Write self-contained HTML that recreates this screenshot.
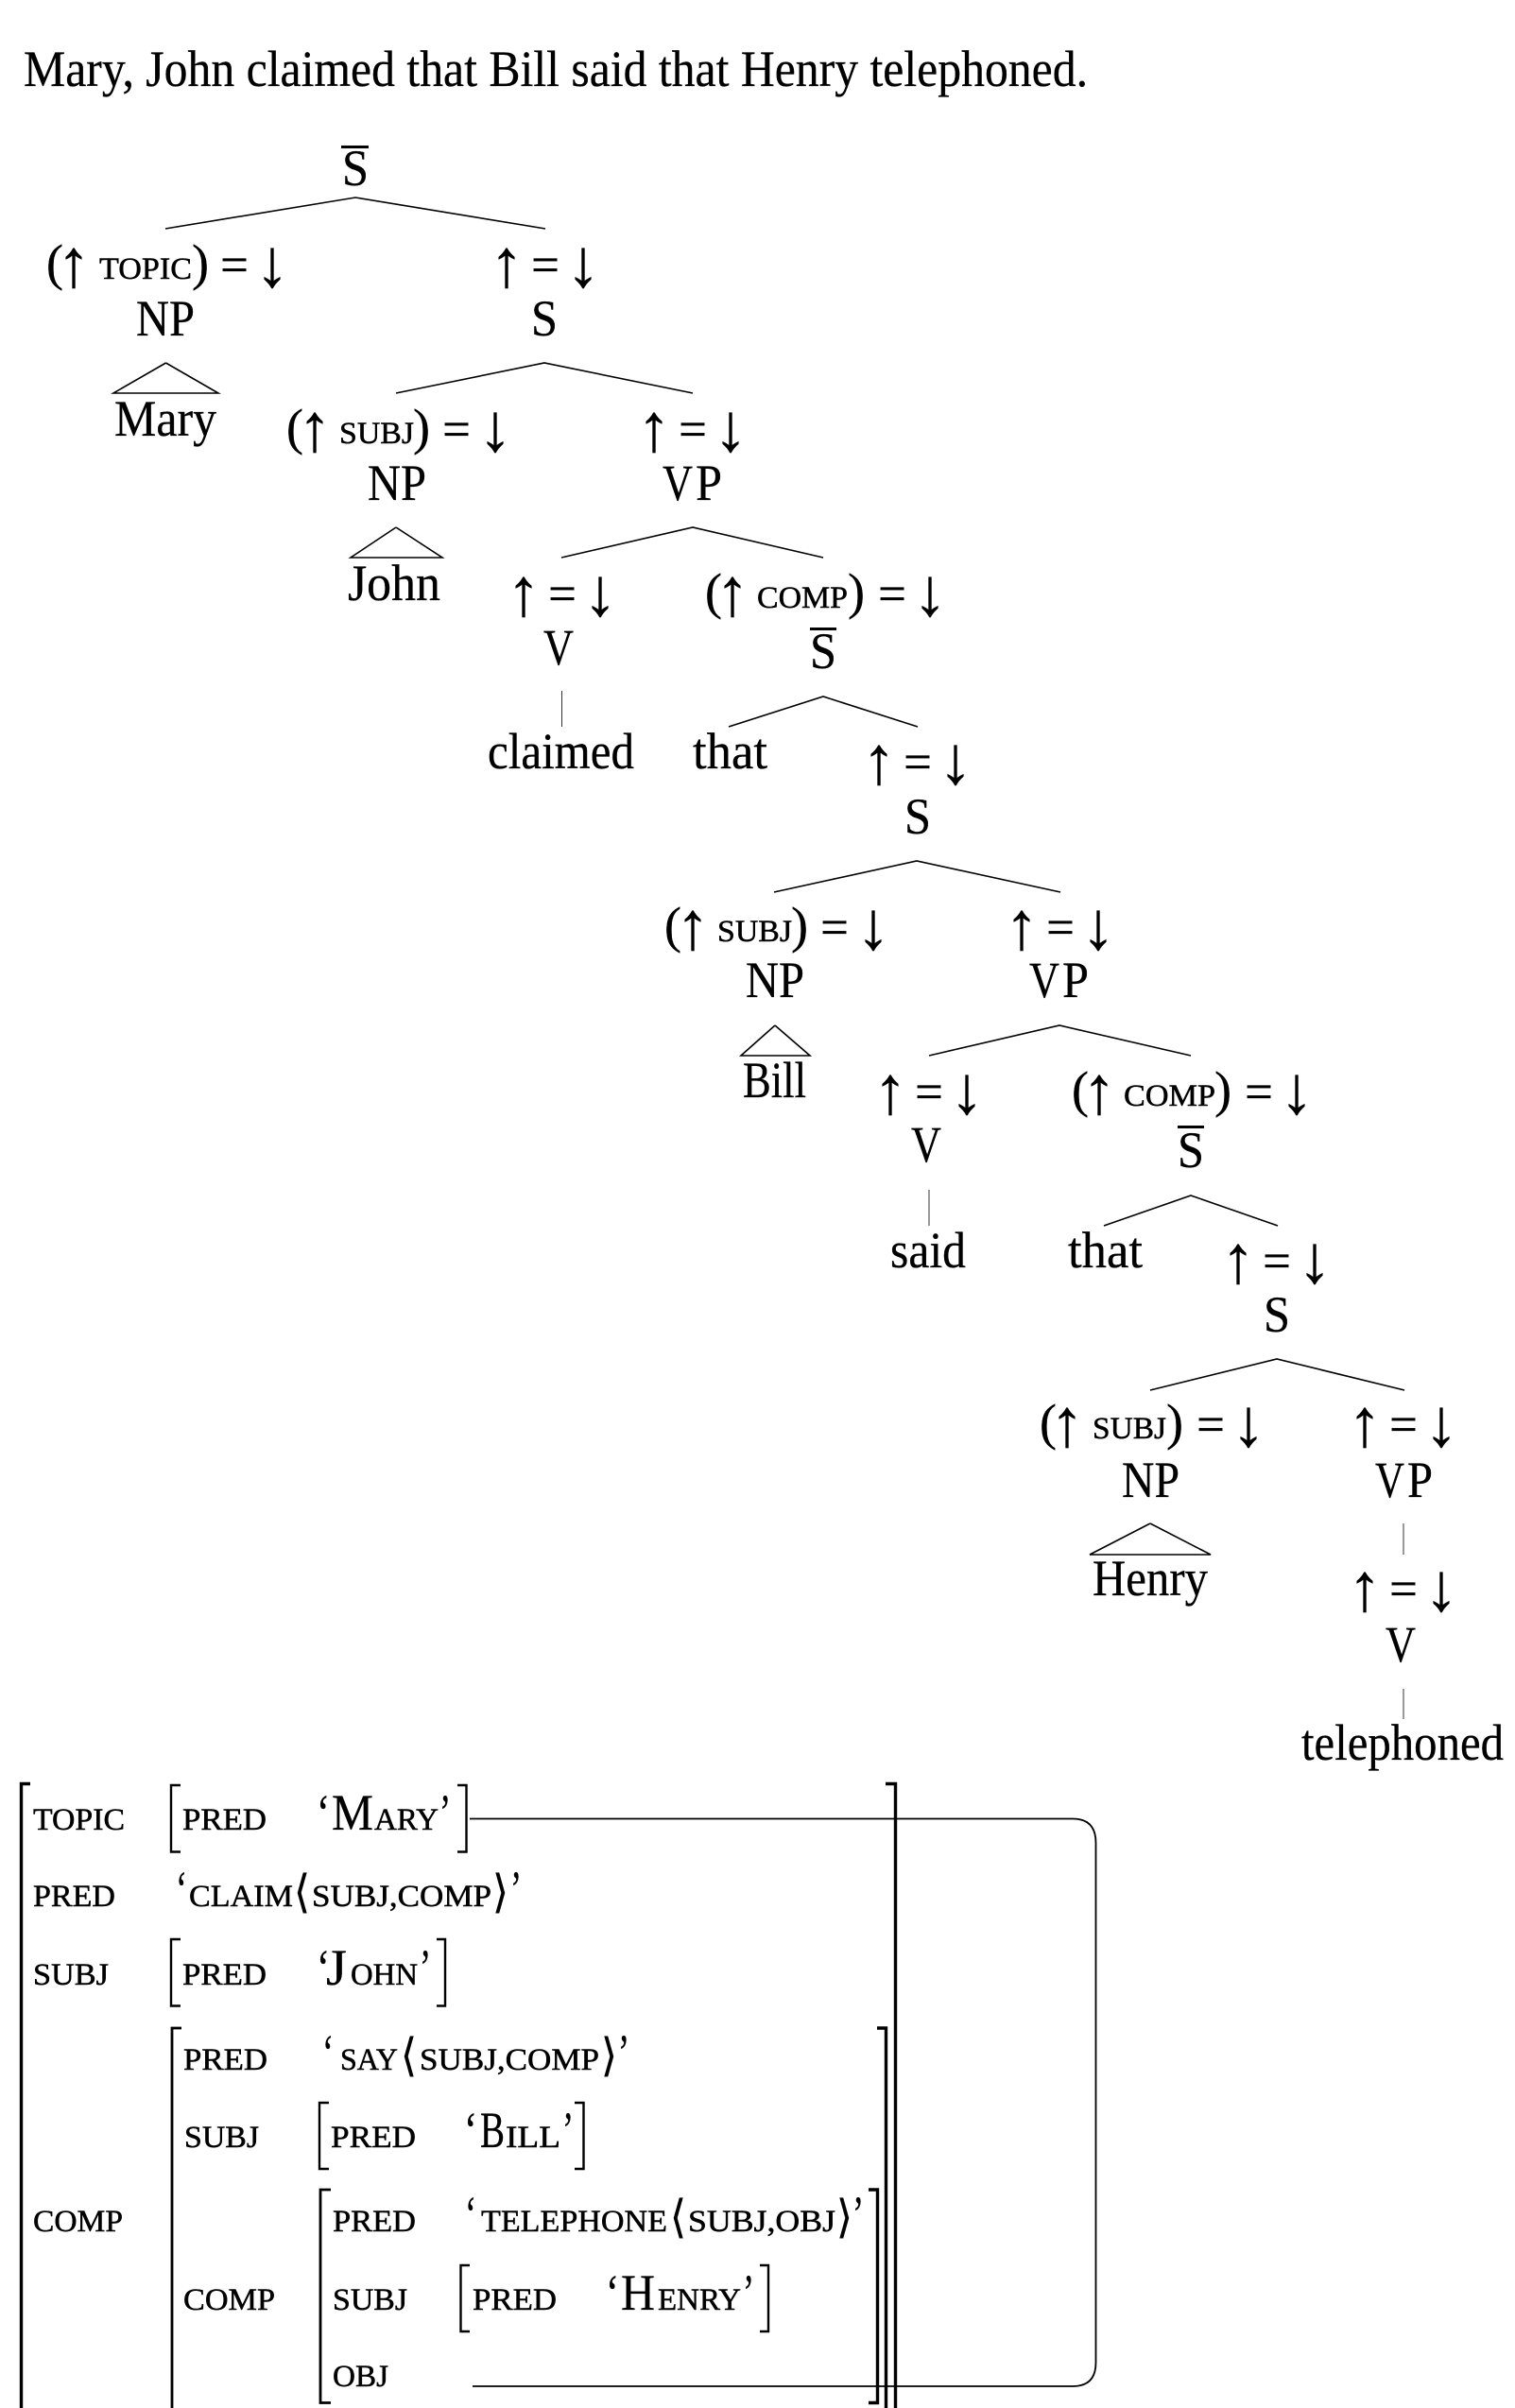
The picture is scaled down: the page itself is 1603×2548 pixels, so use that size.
<!DOCTYPE html>
<html>
<head>
<meta charset="utf-8">
<style>
html,body{margin:0;padding:0;background:#fff;width:1603px;height:2548px;overflow:hidden}
svg{display:block}
text{font-family:"Liberation Serif",serif;fill:#000;font-size:54px;stroke:#000;stroke-width:.3px}
.s{font-size:33px;stroke-width:.5px}
.m{font-size:33px;stroke-width:.5px}
.a{font-size:72px;text-anchor:middle;stroke-width:.3px}
line,polyline,path{fill:none;stroke:#000}
.l{stroke-width:1.6}
.t{stroke-width:1;stroke:#333}
.b{stroke-width:2.4}
.h{stroke-width:3.4}
</style>
</head>
<body>
<svg xmlns="http://www.w3.org/2000/svg" width="1603" height="2548" viewBox="0 0 1603 2548">
<text x="25" y="91" textLength="1126" lengthAdjust="spacingAndGlyphs">Mary, John claimed that Bill said that Henry telephoned.</text>

<!-- root -->
<line x1="361" y1="155.500" x2="390" y2="155.500" stroke-width="3"/>
<text x="362" y="196" textLength="28" lengthAdjust="spacingAndGlyphs">S</text>
<polyline class="l" points="175,242 376,209 577,242"/>

<!-- TOPIC annotation -->
<text x="49" y="296" textLength="18" lengthAdjust="spacingAndGlyphs">(</text>
<text class="a" x="78" y="303">↑</text>
<text class="s" x="105" y="295" textLength="98" lengthAdjust="spacingAndGlyphs">TOPIC</text>
<text x="203" y="296" textLength="18" lengthAdjust="spacingAndGlyphs">)</text>
<text x="233" y="298" textLength="30" lengthAdjust="spacingAndGlyphs">=</text>
<text class="a" x="288" y="303">↓</text>
<text x="144" y="355" textLength="62" lengthAdjust="spacingAndGlyphs">NP</text>
<polyline class="l" points="175.500,384 120,416 231,416 175.500,384"/>
<text x="121" y="461" textLength="108" lengthAdjust="spacingAndGlyphs">Mary</text>

<!-- ↑=↓ S -->
<text class="a" x="536" y="303">↑</text>
<text x="562" y="298" textLength="30" lengthAdjust="spacingAndGlyphs">=</text>
<text class="a" x="617" y="303">↓</text>
<text x="562" y="355" textLength="28" lengthAdjust="spacingAndGlyphs">S</text>
<polyline class="l" points="419,416 576,384 733,416"/>

<!-- SUBJ John -->
<text x="303" y="470" textLength="18" lengthAdjust="spacingAndGlyphs">(</text>
<text class="a" x="333" y="477">↑</text>
<text class="s" x="359" y="469" textLength="79" lengthAdjust="spacingAndGlyphs">SUBJ</text>
<text x="437" y="470" textLength="18" lengthAdjust="spacingAndGlyphs">)</text>
<text x="468" y="472" textLength="30" lengthAdjust="spacingAndGlyphs">=</text>
<text class="a" x="524" y="477">↓</text>
<text x="389" y="529" textLength="62" lengthAdjust="spacingAndGlyphs">NP</text>
<polyline class="l" points="419,558 371,590 468,590 419,558"/>
<text x="368" y="635" textLength="98" lengthAdjust="spacingAndGlyphs">John</text>

<!-- ↑=↓ VP -->
<text class="a" x="692" y="477">↑</text>
<text x="718" y="472" textLength="30" lengthAdjust="spacingAndGlyphs">=</text>
<text class="a" x="773" y="477">↓</text>
<text x="701" y="529" textLength="32" lengthAdjust="spacingAndGlyphs">V</text>
<text x="736" y="529" textLength="28" lengthAdjust="spacingAndGlyphs">P</text>
<polyline class="l" points="594,590 733,558 871,590"/>

<!-- ↑=↓ V claimed -->
<text class="a" x="554" y="651">↑</text>
<text x="580" y="646" textLength="30" lengthAdjust="spacingAndGlyphs">=</text>
<text class="a" x="635" y="651">↓</text>
<text x="575" y="703" textLength="32" lengthAdjust="spacingAndGlyphs">V</text>
<line class="t" x1="594.500" y1="731" x2="594.500" y2="769"/>
<text x="516" y="813" textLength="155" lengthAdjust="spacingAndGlyphs">claimed</text>

<!-- COMP 1 -->
<text x="746" y="644" textLength="18" lengthAdjust="spacingAndGlyphs">(</text>
<text class="a" x="775" y="651">↑</text>
<text class="s" x="801" y="643" textLength="96" lengthAdjust="spacingAndGlyphs">COMP</text>
<text x="897" y="644" textLength="18" lengthAdjust="spacingAndGlyphs">)</text>
<text x="929" y="646" textLength="30" lengthAdjust="spacingAndGlyphs">=</text>
<text class="a" x="984" y="651">↓</text>
<line x1="857" y1="665.500" x2="885" y2="665.500" stroke-width="3"/>
<text x="857" y="707" textLength="28" lengthAdjust="spacingAndGlyphs">S</text>
<polyline class="l" points="771,769 871,737 971,769"/>
<text x="733" y="813" textLength="79" lengthAdjust="spacingAndGlyphs">that</text>

<!-- ↑=↓ S -->
<text class="a" x="930" y="829">↑</text>
<text x="956" y="824" textLength="30" lengthAdjust="spacingAndGlyphs">=</text>
<text class="a" x="1011" y="829">↓</text>
<text x="957" y="882" textLength="28" lengthAdjust="spacingAndGlyphs">S</text>
<polyline class="l" points="819,944 970,911 1122,944"/>

<!-- SUBJ Bill -->
<text x="703" y="997" textLength="18" lengthAdjust="spacingAndGlyphs">(</text>
<text class="a" x="733" y="1004">↑</text>
<text class="s" x="759" y="996" textLength="79" lengthAdjust="spacingAndGlyphs">SUBJ</text>
<text x="837" y="997" textLength="18" lengthAdjust="spacingAndGlyphs">)</text>
<text x="868" y="999" textLength="30" lengthAdjust="spacingAndGlyphs">=</text>
<text class="a" x="924" y="1004">↓</text>
<text x="789" y="1055" textLength="62" lengthAdjust="spacingAndGlyphs">NP</text>
<polyline class="l" points="820,1085 784,1117 857,1117 820,1085"/>
<text x="786" y="1161" textLength="67" lengthAdjust="spacingAndGlyphs">Bill</text>

<!-- ↑=↓ VP -->
<text class="a" x="1081" y="1004">↑</text>
<text x="1107" y="999" textLength="30" lengthAdjust="spacingAndGlyphs">=</text>
<text class="a" x="1162" y="1004">↓</text>
<text x="1089" y="1055" textLength="32" lengthAdjust="spacingAndGlyphs">V</text>
<text x="1124" y="1055" textLength="28" lengthAdjust="spacingAndGlyphs">P</text>
<polyline class="l" points="983,1117 1121,1085 1260,1117"/>

<!-- ↑=↓ V said -->
<text class="a" x="942" y="1178">↑</text>
<text x="968" y="1173" textLength="30" lengthAdjust="spacingAndGlyphs">=</text>
<text class="a" x="1023" y="1178">↓</text>
<text x="964" y="1229" textLength="32" lengthAdjust="spacingAndGlyphs">V</text>
<line class="t" x1="983" y1="1259" x2="983" y2="1297"/>
<text x="942" y="1341" textLength="80" lengthAdjust="spacingAndGlyphs">said</text>

<!-- COMP 2 -->
<text x="1134" y="1171" textLength="18" lengthAdjust="spacingAndGlyphs">(</text>
<text class="a" x="1163" y="1178">↑</text>
<text class="s" x="1189" y="1170" textLength="97" lengthAdjust="spacingAndGlyphs">COMP</text>
<text x="1285" y="1171" textLength="18" lengthAdjust="spacingAndGlyphs">)</text>
<text x="1317" y="1173" textLength="30" lengthAdjust="spacingAndGlyphs">=</text>
<text class="a" x="1372" y="1178">↓</text>
<line x1="1246" y1="1192.500" x2="1274" y2="1192.500" stroke-width="3"/>
<text x="1246" y="1235" textLength="28" lengthAdjust="spacingAndGlyphs">S</text>
<polyline class="l" points="1168,1297 1260,1265 1352,1297"/>
<text x="1130" y="1341" textLength="79" lengthAdjust="spacingAndGlyphs">that</text>

<!-- ↑=↓ S -->
<text class="a" x="1310" y="1357">↑</text>
<text x="1336" y="1352" textLength="30" lengthAdjust="spacingAndGlyphs">=</text>
<text class="a" x="1391" y="1357">↓</text>
<text x="1337" y="1409" textLength="28" lengthAdjust="spacingAndGlyphs">S</text>
<polyline class="l" points="1217,1471 1351,1438 1486,1471"/>

<!-- SUBJ Henry -->
<text x="1100" y="1523" textLength="18" lengthAdjust="spacingAndGlyphs">(</text>
<text class="a" x="1129" y="1530">↑</text>
<text class="s" x="1156" y="1522" textLength="78" lengthAdjust="spacingAndGlyphs">SUBJ</text>
<text x="1234" y="1523" textLength="18" lengthAdjust="spacingAndGlyphs">)</text>
<text x="1266" y="1525" textLength="30" lengthAdjust="spacingAndGlyphs">=</text>
<text class="a" x="1321" y="1530">↓</text>
<text x="1187" y="1584" textLength="61" lengthAdjust="spacingAndGlyphs">NP</text>
<polyline class="l" points="1217,1612 1153,1645 1281,1645 1217,1612"/>
<text x="1156" y="1688" textLength="122" lengthAdjust="spacingAndGlyphs">Henry</text>

<!-- ↑=↓ VP -->
<text class="a" x="1444" y="1530">↑</text>
<text x="1470" y="1525" textLength="30" lengthAdjust="spacingAndGlyphs">=</text>
<text class="a" x="1525" y="1530">↓</text>
<text x="1455" y="1584" textLength="31" lengthAdjust="spacingAndGlyphs">V</text>
<text x="1489" y="1584" textLength="27" lengthAdjust="spacingAndGlyphs">P</text>
<line class="t" x1="1485" y1="1612" x2="1485" y2="1645"/>
<text class="a" x="1444" y="1704">↑</text>
<text x="1470" y="1699" textLength="30" lengthAdjust="spacingAndGlyphs">=</text>
<text class="a" x="1525" y="1704">↓</text>
<text x="1466" y="1758" textLength="32" lengthAdjust="spacingAndGlyphs">V</text>
<line class="t" x1="1485" y1="1787" x2="1485" y2="1819"/>
<text x="1377" y="1862" textLength="214" lengthAdjust="spacingAndGlyphs">telephoned</text>

<!-- AVM brackets -->
<polyline class="h" points="32,1887.500 22.500,1887.500 22.500,2548"/>
<polyline class="h" points="937,1887.500 947.500,1887.500 947.500,2548"/>
<polyline class="b" points="191,1889 181,1889 181,1959.500 191,1959.500"/>
<polyline class="b" points="484,1889 493.500,1889 493.500,1959.500 484,1959.500"/>
<polyline class="b" points="191,2052 181,2052 181,2122.500 191,2122.500"/>
<polyline class="b" points="462,2052 471,2052 471,2122.500 462,2122.500"/>
<polyline class="h" points="192,2146 182,2146 182,2548" style="stroke-width:2.8"/>
<polyline class="h" points="928,2146 937.500,2146 937.500,2548"/>
<polyline class="b" points="348,2225 338,2225 338,2295 348,2295"/>
<polyline class="b" points="608,2225 617.500,2225 617.500,2295 608,2295"/>
<polyline class="h" points="350,2317 339,2317 339,2542.500 350,2542.500" style="stroke-width:2.8"/>
<polyline class="h" points="919,2317 928.500,2317 928.500,2542.500 919,2542.500"/>
<polyline class="b" points="497,2397 487.500,2397 487.500,2467 497,2467"/>
<polyline class="b" points="804,2397 813,2397 813,2467 804,2467"/>

<!-- connector -->
<path stroke-width="1.8" d="M497 1924.500 H1135 Q1159.500 1924.500 1159.500 1950 V2500 Q1159.500 2525 1135 2525 H500"/>

<!-- TOPIC row -->
<text class="m" x="35" y="1936" textLength="97" lengthAdjust="spacingAndGlyphs">TOPIC</text>
<text class="m" x="193" y="1936" textLength="89" lengthAdjust="spacingAndGlyphs">PRED</text>
<text x="335" y="1936" textLength="14" lengthAdjust="spacingAndGlyphs">‘</text>
<text x="351" y="1936" textLength="44" lengthAdjust="spacingAndGlyphs">M</text>
<text class="m" x="396" y="1936" textLength="68" lengthAdjust="spacingAndGlyphs">ARY</text>
<text x="465" y="1936" textLength="12" lengthAdjust="spacingAndGlyphs">’</text>

<!-- PRED row -->
<text class="m" x="35" y="2017" textLength="87" lengthAdjust="spacingAndGlyphs">PRED</text>
<text x="186" y="2017" textLength="12" lengthAdjust="spacingAndGlyphs">‘</text>
<text class="m" x="200" y="2017" textLength="110" lengthAdjust="spacingAndGlyphs">CLAIM</text>
<text x="311" y="2018" style="font-size:48px" textLength="17" lengthAdjust="spacingAndGlyphs">⟨</text>
<text class="m" x="330" y="2017" textLength="190" lengthAdjust="spacingAndGlyphs">SUBJ,COMP</text>
<text x="521" y="2018" style="font-size:48px" textLength="17" lengthAdjust="spacingAndGlyphs">⟩</text>
<text x="540" y="2017" textLength="12" lengthAdjust="spacingAndGlyphs">’</text>

<!-- SUBJ row -->
<text class="m" x="35" y="2100" textLength="80" lengthAdjust="spacingAndGlyphs">SUBJ</text>
<text class="m" x="193" y="2100" textLength="89" lengthAdjust="spacingAndGlyphs">PRED</text>
<text x="335" y="2100" textLength="14" lengthAdjust="spacingAndGlyphs">‘</text>
<text x="345" y="2100" textLength="22" lengthAdjust="spacingAndGlyphs">J</text>
<text class="m" x="371" y="2100" textLength="71" lengthAdjust="spacingAndGlyphs">OHN</text>
<text x="444" y="2100" textLength="12" lengthAdjust="spacingAndGlyphs">’</text>

<!-- COMP row -->
<text class="m" x="35" y="2361" textLength="95" lengthAdjust="spacingAndGlyphs">COMP</text>
<text class="m" x="194" y="2190" textLength="89" lengthAdjust="spacingAndGlyphs">PRED</text>
<text x="341" y="2190" textLength="12" lengthAdjust="spacingAndGlyphs">‘</text>
<text class="m" x="360" y="2190" textLength="61" lengthAdjust="spacingAndGlyphs">SAY</text>
<text x="424" y="2191" style="font-size:48px" textLength="17" lengthAdjust="spacingAndGlyphs">⟨</text>
<text class="m" x="444" y="2190" textLength="190" lengthAdjust="spacingAndGlyphs">SUBJ,COMP</text>
<text x="636" y="2191" style="font-size:48px" textLength="17" lengthAdjust="spacingAndGlyphs">⟩</text>
<text x="654" y="2190" textLength="12" lengthAdjust="spacingAndGlyphs">’</text>

<text class="m" x="195" y="2272" textLength="79" lengthAdjust="spacingAndGlyphs">SUBJ</text>
<text class="m" x="350" y="2272" textLength="90" lengthAdjust="spacingAndGlyphs">PRED</text>
<text x="491" y="2272" textLength="14" lengthAdjust="spacingAndGlyphs">‘</text>
<text x="508" y="2272" textLength="26" lengthAdjust="spacingAndGlyphs">B</text>
<text class="m" x="535" y="2272" textLength="58" lengthAdjust="spacingAndGlyphs">ILL</text>
<text x="595" y="2272" textLength="12" lengthAdjust="spacingAndGlyphs">’</text>

<text class="m" x="352" y="2361" textLength="88" lengthAdjust="spacingAndGlyphs">PRED</text>
<text x="492" y="2361" textLength="12" lengthAdjust="spacingAndGlyphs">‘</text>
<text class="m" x="509" y="2361" textLength="197" lengthAdjust="spacingAndGlyphs">TELEPHONE</text>
<text x="709" y="2362" style="font-size:48px" textLength="17" lengthAdjust="spacingAndGlyphs">⟨</text>
<text class="m" x="728" y="2361" textLength="156" lengthAdjust="spacingAndGlyphs">SUBJ,OBJ</text>
<text x="885" y="2362" style="font-size:48px" textLength="17" lengthAdjust="spacingAndGlyphs">⟩</text>
<text x="902" y="2361" textLength="12" lengthAdjust="spacingAndGlyphs">’</text>

<text class="m" x="194" y="2444" textLength="97" lengthAdjust="spacingAndGlyphs">COMP</text>
<text class="m" x="352" y="2444" textLength="79" lengthAdjust="spacingAndGlyphs">SUBJ</text>
<text class="m" x="500" y="2444" textLength="89" lengthAdjust="spacingAndGlyphs">PRED</text>
<text x="641" y="2444" textLength="14" lengthAdjust="spacingAndGlyphs">‘</text>
<text x="657" y="2444" textLength="36" lengthAdjust="spacingAndGlyphs">H</text>
<text class="m" x="696" y="2444" textLength="88" lengthAdjust="spacingAndGlyphs">ENRY</text>
<text x="786" y="2444" textLength="12" lengthAdjust="spacingAndGlyphs">’</text>

<text class="m" x="352" y="2525" textLength="59" lengthAdjust="spacingAndGlyphs">OBJ</text>
</svg>
</body>
</html>
